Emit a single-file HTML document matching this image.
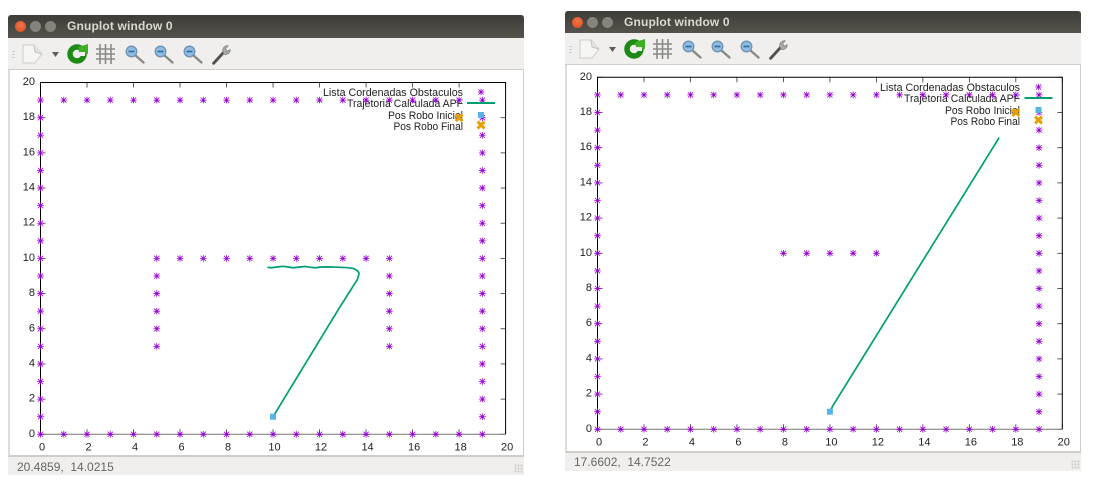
<!DOCTYPE html>
<html lang="en">
<head>
<meta charset="utf-8">
<title>Gnuplot windows</title>
<style>
html,body{margin:0;padding:0;background:#fff;}
body{width:1103px;height:487px;position:relative;overflow:hidden;font-family:"Liberation Sans",sans-serif;}
.win{position:absolute;width:516px;background:#f0efed;}
.titlebar{position:absolute;left:0;top:0;width:516px;height:23px;background:linear-gradient(#3d3c38,#55524b);border-radius:3px 3px 0 0;}
.btn{position:absolute;top:6px;width:11px;height:11px;border-radius:50%;}
.close{left:7px;background:radial-gradient(circle at 50% 40%,#f0764a,#d6491f);}
.min{left:22px;background:#85837b;}
.max{left:37px;background:#85837b;}
.title{position:absolute;left:59px;top:4px;font-size:12px;font-weight:bold;color:#dcd8cf;letter-spacing:.15px;white-space:nowrap;}
.toolbar{position:absolute;left:0;top:23px;width:516px;height:32px;background:#f0efed;border-bottom:1px solid #cfcbc6;box-sizing:border-box;}
.toolbar svg{display:block;}
.plotarea{position:absolute;left:0;width:516px;background:#fff;border-left:2px solid #dedcd9;border-right:1px solid #cfcbc6;border-bottom:2px solid #cfcbc6;box-sizing:border-box;}
.status{position:absolute;left:9px;font-size:12px;color:#666;white-space:pre;}
.grip{position:absolute;right:1px;width:9px;height:9px;background-image:radial-gradient(#cfcdc9 1px,transparent 1.2px);background-size:3px 3px;}
svg text{font-family:"Liberation Sans",sans-serif;fill:#222;}
.plot{position:absolute;left:0;top:0;}
</style>
</head>
<body>
<svg width="0" height="0" style="position:absolute">
<defs>
<symbol id="ic-zoom" viewBox="0 0 24 24" overflow="visible">
<line x1="11" y1="11" x2="19.500" y2="18.500" stroke="#8a8a86" stroke-width="2.400" stroke-linecap="round"/>
<circle cx="7.500" cy="7.500" r="5.300" fill="#8fbce0" stroke="#6f93b5" stroke-width="1.300"/>
<rect x="4.500" y="6.700" width="6" height="1.600" fill="#2f6aa0"/>
</symbol>
<symbol id="ic-tools" viewBox="0 0 24 24" overflow="visible">
<line x1="4" y1="21" x2="15" y2="9" stroke="#55534f" stroke-width="3.200" stroke-linecap="round"/>
<path d="M14 8 a5 5 0 0 1 6-6 l-3 3 2 3 3-2 a5 5 0 0 1-7 5z" fill="#a9a9a6" stroke="#777" stroke-width=".7"/>
</symbol>
<symbol id="ic-toolbar" viewBox="0 0 240 32" overflow="visible">
<g fill="#cfcdca"><rect x="4" y="13" width="3" height="1"/><rect x="4" y="16" width="3" height="1"/><rect x="4" y="19" width="3" height="1"/></g>
<path d="M15 7h11l8 9-7 9H15z" fill="#f5f5f3" stroke="#cfcdc9"/>
<path d="M26 7l1 7 7 2" fill="#e4e4e1" stroke="#c4c2be"/>
<path d="M44 14h7l-3.500 5z" fill="#5e5c58"/>
<circle cx="69" cy="16" r="7" fill="none" stroke="#1c8a14" stroke-width="5.500"/>
<path d="M70 9l10-3v10l-9-2z" fill="#3fae24"/>
<path d="M72 14h5v4h-5z" fill="#f0efed"/>
<g stroke="#8a8a88" stroke-width="1.600">
<line x1="88" y1="11" x2="107" y2="11"/><line x1="88" y1="16" x2="107" y2="16"/><line x1="88" y1="21" x2="107" y2="21"/>
<line x1="92" y1="6" x2="92" y2="26"/><line x1="97.500" y1="6" x2="97.500" y2="26"/><line x1="103" y1="6" x2="103" y2="26"/>
</g>
<use href="#ic-zoom" x="116" y="6" width="24" height="24"/>
<use href="#ic-zoom" x="145" y="6" width="24" height="24"/>
<use href="#ic-zoom" x="174" y="6" width="24" height="24"/>
<use href="#ic-tools" x="202" y="6" width="22" height="22"/>
</symbol>
</defs>
</svg>

<div class="win" id="win-left" style="left:8px;top:15px;height:460px">
  <div class="titlebar">
    <div class="btn close"></div>
    <div class="btn min"></div>
    <div class="btn max"></div>
    <div class="title">Gnuplot window 0</div>
  </div>
  <div class="toolbar">
    <svg width="240" height="32"><use href="#ic-toolbar" width="240" height="32"/></svg>
  </div>
  <div class="plotarea" style="top:55px;height:387px"></div>
  <svg class="plot" id="plot-left" width="516" height="460" viewBox="8 15 516 460">
    <g font-size="11" text-anchor="end">
      <text x="463" y="96" textLength="140" lengthAdjust="spacingAndGlyphs">Lista Cordenadas Obstaculos</text>
      <text x="463" y="107" textLength="116" lengthAdjust="spacingAndGlyphs">Trajetoria Calculada APF</text>
      <text x="463" y="119" textLength="75" lengthAdjust="spacingAndGlyphs">Pos Robo Inicial</text>
      <text x="463" y="130" textLength="69.500" lengthAdjust="spacingAndGlyphs">Pos Robo Final</text>
    </g>
  </svg>
  <div class="status" style="top:445px">20.4859,  14.0215</div>
  <div class="grip" style="top:449px"></div>
</div>

<div class="win" id="win-right" style="left:565px;top:11px;height:460px">
  <div class="titlebar" style="height:22px">
    <div class="btn close"></div>
    <div class="btn min"></div>
    <div class="btn max"></div>
    <div class="title">Gnuplot window 0</div>
  </div>
  <div class="toolbar" style="top:22px">
    <svg width="240" height="32"><use href="#ic-toolbar" width="240" height="32"/></svg>
  </div>
  <div class="plotarea" style="top:54px;height:388px"></div>
  <svg class="plot" id="plot-right" width="516" height="460" viewBox="565 11 516 460">
    <g font-size="11" text-anchor="end">
      <text x="1020" y="91" textLength="140" lengthAdjust="spacingAndGlyphs">Lista Cordenadas Obstaculos</text>
      <text x="1020" y="102" textLength="116" lengthAdjust="spacingAndGlyphs">Trajetoria Calculada APF</text>
      <text x="1020" y="114" textLength="75" lengthAdjust="spacingAndGlyphs">Pos Robo Inicial</text>
      <text x="1020" y="125" textLength="69.500" lengthAdjust="spacingAndGlyphs">Pos Robo Final</text>
    </g>
  </svg>
  <div class="status" style="top:444px">17.6602,  14.7522</div>
  <div class="grip" style="top:449px"></div>
</div>

<script>
var xTickLabels = [0, 2, 4, 6, 8, 10, 12, 14, 16, 18, 20];
var yTickLabels = [0, 2, 4, 6, 8, 10, 12, 14, 16, 18, 20];

var wallX = [0,0,0,0,0,0,0,0,0,0,0,0,0,0,0,0,0,0,0,0, 1,2,3,4,5,6,7,8,9,10,11,12,13,14,15,16,17,18,19, 19,19,19,19,19,19,19,19,19,19,19,19,19,19,19,19,19,19,19, 1,2,3,4,5,6,7,8,9,10,11,12,13,14,15,16,17,18];
var wallY = [0,1,2,3,4,5,6,7,8,9,10,11,12,13,14,15,16,17,18,19, 19,19,19,19,19,19,19,19,19,19,19,19,19,19,19,19,19,19,19, 18,17,16,15,14,13,12,11,10,9,8,7,6,5,4,3,2,1,0, 0,0,0,0,0,0,0,0,0,0,0,0,0,0,0,0,0,0];

var leftBlockX = [5,6,7,8,9,10,11,12,13,14,15, 5,5,5,5,5, 15,15,15,15,15];
var leftBlockY = [10,10,10,10,10,10,10,10,10,10,10, 9,8,7,6,5, 9,8,7,6,5];
var rightBlockX = [8,9,10,11,12];
var rightBlockY = [10,10,10,10,10];

var leftPathX = [10,12.81,13.63,13.70,13.63,13.46,13.17,12.74,12.38,12.09,11.81,11.59,11.38,11.16,10.87,10.66,10.44,10.16,9.94,9.76];
var leftPathY = [1,7.10,8.81,9.15,9.30,9.43,9.48,9.50,9.52,9.51,9.47,9.50,9.54,9.51,9.47,9.51,9.55,9.51,9.47,9.49];
var rightPathX = [10,10.12,13.5,17.28];
var rightPathY = [1,1.32,8.52,16.57];

var leftStart = [10, 1];
var leftEnd = [18, 18];
var rightStart = [10, 1];
var rightEnd = [18, 18];

var NS = 'http://www.w3.org/2000/svg';
function mk(parent, tag, attrs) {
  var el = document.createElementNS(NS, tag);
  for (var k in attrs) el.setAttribute(k, attrs[k]);
  parent.appendChild(el);
  return el;
}
function starPath(x, y) {
  var r = 3.3, d = 2.6;
  return 'M' + (x - r) + ' ' + y + 'H' + (x + r) +
    'M' + x + ' ' + (y - r) + 'V' + (y + r) +
    'M' + (x - d) + ' ' + (y - d) + 'L' + (x + d) + ' ' + (y + d) +
    'M' + (x - d) + ' ' + (y + d) + 'L' + (x + d) + ' ' + (y - d);
}
function crossPath(x, y) {
  var r = 3.4;
  return 'M' + (x - r) + ' ' + (y - r) + 'L' + (x + r) + ' ' + (y + r) +
    'M' + (x - r) + ' ' + (y + r) + 'L' + (x + r) + ' ' + (y - r);
}
function drawPlot(svg, g) {
  var sx = function (v) { return g.x0 + (v / 20) * (g.x1 - g.x0); };
  var sy = function (v) { return g.y0 + (v / 20) * (g.y1 - g.y0); };

  var axes = mk(svg, 'g', {});
  
  

  xTickLabels.forEach(function (t) {
    var px = sx(t);
    var tb = mk(axes, 'line', {x1: px, x2: px, y1: g.y0, y2: g.y0 - 5, stroke: '#333', 'stroke-width': 0.8});
    
    
    var tt = mk(axes, 'line', {x1: px, x2: px, y1: g.y1, y2: g.y1 + 5, stroke: '#333', 'stroke-width': 0.8});
    
    
    var lb = mk(axes, 'text', {x: px + 1.5, y: g.y0 + 16, 'font-size': 11, 'text-anchor': 'middle'});
    
    
    lb.textContent = t;
  });
  yTickLabels.forEach(function (t) {
    var py = sy(t);
    var tl = mk(axes, 'line', {x1: g.x0, x2: g.x0 + 5, y1: py, y2: py, stroke: '#333', 'stroke-width': 0.8});
    
    
    var tr = mk(axes, 'line', {x1: g.x1, x2: g.x1 - 5, y1: py, y2: py, stroke: '#333', 'stroke-width': 0.8});
    
    
    var lb = mk(axes, 'text', {x: g.x0 - 5.5, y: py + 2.5, 'font-size': 11, 'text-anchor': 'end'});
    
    
    lb.textContent = t;
  });

  var border = mk(axes, 'path', {
    d: 'M' + g.x0 + ' ' + g.y0 + 'V' + g.y1 + 'H' + g.x1 + 'V' + g.y0,
    fill: 'none', stroke: '#000', 'stroke-width': 1
  });
  
  
  var base = mk(axes, 'line', {x1: g.x0, x2: g.x1, y1: g.y0, y2: g.y0, stroke: '#777', 'stroke-width': 1});
  
  

  var d = '';
  g.obsX.forEach(function (ox, i) { d += starPath(sx(ox), sy(g.obsY[i])); });
  var obstacles = mk(svg, 'path', {d: d, fill: 'none', stroke: '#9400d3', 'stroke-width': 0.8});
  
  

  var pts = g.pathX.map(function (px, i) { return sx(px) + ',' + sy(g.pathY[i]); }).join(' ');
  var traj = mk(svg, 'polyline', {points: pts, fill: 'none', stroke: '#009e73', 'stroke-width': 1.7, 'stroke-linejoin': 'round'});
  
  

  var st = mk(svg, 'rect', {x: sx(g.start[0]) - 3, y: sy(g.start[1]) - 3, width: 6, height: 6, fill: '#56b4e9'});
  
  
  var en = mk(svg, 'path', {d: crossPath(sx(g.end[0]), sy(g.end[1])), stroke: '#e69f00', 'stroke-width': 3, fill: 'none'});
  
  

  var k1 = mk(svg, 'path', {d: starPath(g.keyX, g.keyY), fill: 'none', stroke: '#9400d3', 'stroke-width': 0.8});
  
  
  var k2 = mk(svg, 'line', {x1: g.keyX - 14, x2: g.keyX + 14, y1: g.keyY + 11, y2: g.keyY + 11, stroke: '#009e73', 'stroke-width': 1.9});
  
  
  var k3 = mk(svg, 'rect', {x: g.keyX - 3, y: g.keyY + 20, width: 6, height: 6, fill: '#56b4e9'});
  
  
  var k4 = mk(svg, 'path', {d: crossPath(g.keyX, g.keyY + 33), stroke: '#e69f00', 'stroke-width': 3, fill: 'none'});
  
  
}

drawPlot(document.getElementById('plot-left'), {
  x0: 40.5, x1: 505.6, y0: 434.3, y1: 82.5, keyX: 481, keyY: 92,
  obsX: wallX.concat(leftBlockX), obsY: wallY.concat(leftBlockY),
  pathX: leftPathX, pathY: leftPathY, start: leftStart, end: leftEnd
});
drawPlot(document.getElementById('plot-right'), {
  x0: 597.5, x1: 1062.3, y0: 429.3, y1: 77.3, keyX: 1038.5, keyY: 87,
  obsX: wallX.concat(rightBlockX), obsY: wallY.concat(rightBlockY),
  pathX: rightPathX, pathY: rightPathY, start: rightStart, end: rightEnd
});
</script>
</body>
</html>
